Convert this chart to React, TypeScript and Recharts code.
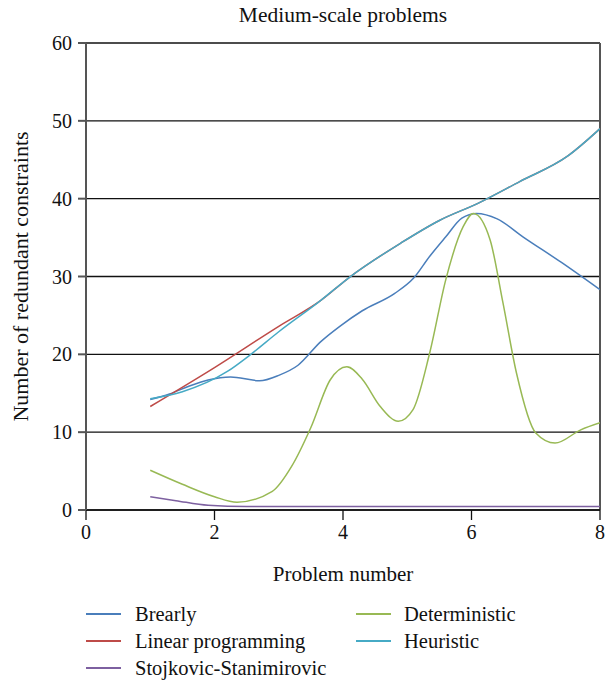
import React from 'react';
import { LineChart, Line, XAxis, YAxis, CartesianGrid, ReferenceLine, Legend, Label } from 'recharts';

const FONT = '"Liberation Serif", "Times New Roman", serif';

// values, x = problem number
const brearlyX = [1, 1.3, 1.6, 1.9, 2.25, 2.7, 3.0, 3.3, 3.65, 3.95, 4.3, 4.8, 5.1, 5.35, 5.6, 5.85, 6.08, 6.4, 6.8, 7.4, 8];
const brearlyY = [14.2, 14.9, 15.9, 16.7, 17.1, 16.6, 17.3, 18.6, 21.6, 23.6, 25.6, 27.8, 29.8, 32.6, 35.1, 37.5, 38.1, 37.4, 35.1, 31.8, 28.3];

const linearX = [1, 2, 3, 3.65, 4.1, 4.9, 5.5, 6.1, 6.75, 7.5, 8];
const linearY = [13.3, 18.3, 23.6, 26.9, 29.9, 34.3, 37.2, 39.4, 42.2, 45.5, 49.0];

const stojkovicX = [1, 1.4, 1.9, 2.5, 4, 6, 8];
const stojkovicY = [1.7, 1.2, 0.6, 0.45, 0.45, 0.45, 0.45];

const deterministicX = [1, 1.5, 2, 2.35, 2.9, 3.2, 3.5, 3.8, 4.06, 4.3, 4.58, 4.86, 5.09, 5.35, 5.6, 5.87, 6.03, 6.29, 6.49, 6.7, 7.0, 7.3, 7.7, 8];
const deterministicY = [5.1, 3.3, 1.7, 1.0, 2.4, 5.6, 10.6, 16.7, 18.4, 16.8, 13.3, 11.4, 12.9, 20.2, 29.6, 36.4, 38.1, 34.7, 26.6, 17.6, 9.9, 8.6, 10.3, 11.2];

const heuristicX = [1, 1.5, 2.2, 2.55, 3.0, 3.65, 4.1, 4.9, 5.5, 6.1, 6.75, 7.5, 8];
const heuristicY = [14.3, 15.2, 17.8, 19.9, 22.9, 26.9, 29.9, 34.3, 37.2, 39.4, 42.2, 45.5, 49.0];

const xTicks = [0, 2, 4, 6, 8];
const yTicks = [0, 10, 20, 30, 40, 50, 60];

const toPoints = (xs: number[], ys: number[]) => xs.map((x, i) => ({ x, y: ys[i] }));

const series = [
  { name: 'Brearly', color: '#4a7ebb', data: toPoints(brearlyX, brearlyY) },
  { name: 'Linear programming', color: '#be4b48', data: toPoints(linearX, linearY) },
  { name: 'Stojkovic-Stanimirovic', color: '#7d60a0', data: toPoints(stojkovicX, stojkovicY) },
  { name: 'Deterministic', color: '#98b954', data: toPoints(deterministicX, deterministicY) },
  { name: 'Heuristic', color: '#46aac5', data: toPoints(heuristicX, heuristicY) },
];

const LegendBox = () => (
  <div style={{ position: 'relative', height: 80, width: 608, fontFamily: FONT, fontSize: 20.5, color: '#111' }}>
    {series.map((s, i) => {
      const col = i < 3 ? 0 : 1;
      const row = i < 3 ? i : i - 3;
      return (
        <div
          key={s.name}
          style={{
            position: 'absolute',
            left: col ? 356 : 86,
            top: row * 27,
            height: 26,
            display: 'flex',
            alignItems: 'center',
            whiteSpace: 'nowrap',
          }}
        >
          <span style={{ display: 'inline-block', width: 35, height: 1.5, background: s.color, marginRight: col ? 13 : 14 }} />
          {s.name}
        </div>
      );
    })}
  </div>
);

export default function App() {
  return (
    <div style={{ position: 'absolute', left: 0, top: 0, width: 608, height: 686, background: '#fff', fontFamily: FONT }}>
      <div style={{ position: 'absolute', left: 86, width: 514, top: 3, textAlign: 'center', fontSize: 21.5, color: '#111' }}>
        Medium-scale problems
      </div>
      <LineChart width={608} height={686} margin={{ top: 43, right: 8, left: 0, bottom: 96 }}>
        <CartesianGrid horizontal vertical={false} stroke="#111" strokeWidth={1.3} />
        <XAxis
          type="number"
          dataKey="x"
          domain={[0, 8]}
          ticks={xTicks}
          height={80}
          stroke="#111"
          strokeWidth={1.3}
          tickSize={10}
          tickMargin={5}
          tick={{ fontSize: 20, fill: '#111', fontFamily: FONT }}
          allowDataOverflow
        >
          <Label
            content={(props: any) => {
              const vb = props.viewBox;
              return (
                <text x={vb.x + vb.width / 2} y={vb.y + 71} textAnchor="middle" fontSize={21} fill="#111" fontFamily={FONT}>
                  Problem number
                </text>
              );
            }}
          />
        </XAxis>
        <YAxis
          type="number"
          dataKey="y"
          domain={[0, 60]}
          ticks={yTicks}
          width={86}
          stroke="#555"
          strokeWidth={2}
          tickSize={8}
          tickMargin={6}
          tick={{ fontSize: 20, fill: '#111', fontFamily: FONT }}
        >
          <Label
            content={(props: any) => {
              const vb = props.viewBox;
              const cy = vb.y + vb.height / 2;
              return (
                <text
                  x={28}
                  y={cy}
                  transform={`rotate(-90, 28, ${cy})`}
                  textAnchor="middle"
                  fontSize={22}
                  fill="#111"
                  fontFamily={FONT}
                >
                  Number of redundant constraints
                </text>
              );
            }}
          />
        </YAxis>
        <ReferenceLine x={8} stroke="#555" strokeWidth={2} />
        <Legend
          layout="horizontal"
          verticalAlign="middle"
          align="center"
          content={() => <LegendBox />}
          wrapperStyle={{ top: 601, left: 0, bottom: 'auto', width: 608 }}
        />
        {series.map((s) => (
          <Line
            key={s.name}
            data={s.data}
            dataKey="y"
            name={s.name}
            type="monotone"
            stroke={s.color}
            strokeWidth={1.5}
            dot={false}
            activeDot={false}
            isAnimationActive={false}
          />
        ))}
      </LineChart>
    </div>
  );
}
